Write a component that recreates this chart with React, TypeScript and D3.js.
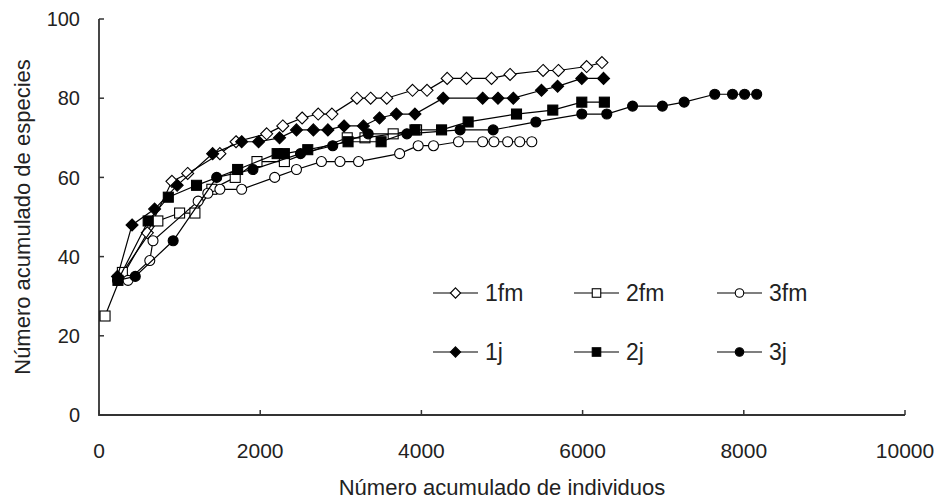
import React from "react"
import * as d3 from "d3"

// x: número acumulado de individuos, y: número acumulado de especies
const fm1X = [290, 600, 905, 1100, 1500, 1700, 2080, 2280, 2520, 2720, 2890, 3200, 3370, 3570, 3890, 4070, 4320, 4560, 4870, 5100, 5510, 5700, 6050, 6240]
const fm1Y = [35, 46, 59, 61, 66, 69, 71, 73, 75, 76, 76, 80, 80, 80, 82, 82, 85, 85, 85, 86, 87, 87, 88, 89]
const fm2X = [75, 290, 730, 1000, 1190, 1400, 1690, 1960, 2300, 3080, 3300, 3650, 3940]
const fm2Y = [25, 36, 49, 51, 51, 57, 60, 64, 64, 70, 70, 71, 72]
const fm3X = [360, 630, 670, 1230, 1350, 1500, 1770, 2180, 2450, 2760, 2990, 3220, 3730, 3960, 4150, 4460, 4760, 4900, 5070, 5220, 5370]
const fm3Y = [34, 39, 44, 54, 56, 57, 57, 60, 62, 64, 64, 64, 66, 68, 68, 69, 69, 69, 69, 69, 69]
const j1X = [230, 410, 690, 970, 1410, 1770, 1980, 2240, 2450, 2660, 2840, 3040, 3280, 3480, 3690, 3920, 4270, 4760, 4950, 5140, 5490, 5690, 5990, 6260]
const j1Y = [35, 48, 52, 58, 66, 69, 69, 70, 72, 72, 72, 73, 73, 75, 76, 76, 80, 80, 80, 80, 82, 83, 85, 85]
const j2X = [235, 610, 860, 1210, 1720, 2210, 2300, 2590, 3090, 3500, 3920, 4250, 4580, 5180, 5630, 5990, 6270]
const j2Y = [34, 49, 55, 58, 62, 66, 66, 67, 69, 69, 72, 72, 74, 76, 77, 79, 79]
const j3X = [230, 450, 920, 1460, 1910, 2500, 2900, 3340, 3820, 4480, 4890, 5420, 5990, 6300, 6620, 6990, 7260, 7640, 7860, 8010, 8160]
const j3Y = [34, 35, 44, 60, 62, 66, 68, 71, 71, 72, 72, 74, 76, 76, 78, 78, 79, 81, 81, 81, 81]

const seriesNames = ["1fm", "2fm", "3fm", "1j", "2j", "3j"]
const xTicks = [0, 2000, 4000, 6000, 8000, 10000]
const yTicks = [0, 20, 40, 60, 80, 100]

const W = 939, H = 503
const FONT = "'Liberation Sans', Arial, sans-serif"

const series = [
  { name: seriesNames[0], xs: fm1X, ys: fm1Y, shape: "diamond", filled: false },
  { name: seriesNames[1], xs: fm2X, ys: fm2Y, shape: "square", filled: false },
  { name: seriesNames[2], xs: fm3X, ys: fm3Y, shape: "circle", filled: false },
  { name: seriesNames[3], xs: j1X, ys: j1Y, shape: "diamond", filled: true },
  { name: seriesNames[4], xs: j2X, ys: j2Y, shape: "square", filled: true },
  { name: seriesNames[5], xs: j3X, ys: j3Y, shape: "circle", filled: true },
]

function Marker({ shape, filled, x, y, s = 1 }) {
  const fill = filled ? "#000" : "#fff"
  const sw = 1.1
  if (shape === "diamond") {
    const r = 6 * s
    return <path d={`M${x},${y - r}L${x + r},${y}L${x},${y + r}L${x - r},${y}Z`} fill={fill} stroke="#000" strokeWidth={sw} />
  }
  if (shape === "square") {
    const r = 5 * s
    return <rect x={x - r} y={y - r} width={2 * r} height={2 * r} fill={fill} stroke="#000" strokeWidth={sw} />
  }
  return <circle cx={x} cy={y} r={5 * s} fill={fill} stroke="#000" strokeWidth={sw} />
}

export default function App() {
  const x = d3.scaleLinear().domain([0, 10000]).range([99, 905])
  const y = d3.scaleLinear().domain([0, 100]).range([415, 19])
  const line = d3.line<[number, number]>().x(d => x(d[0])).y(d => y(d[1]))

  const legendCols = [433, 574, 717]
  const legendRows = [293, 352]

  return (
    <svg width={W} height={H} style={{ position: "absolute", left: 0, top: 0, background: "#fff" }} fontFamily={FONT}>
      {/* axes */}
      <path d={`M${x(0)},${y(100)}V${y(0)}H${x(10000)}`} fill="none" stroke="#333" strokeWidth={1.8} />
      {yTicks.map(t => (
        <g key={"y" + t}>
          <line x1={x(0)} x2={x(0) + 5} y1={y(t)} y2={y(t)} stroke="#333" strokeWidth={1.5} />
          <text x={80} y={y(t)} dy="0.36em" textAnchor="end" fontSize={20} fill="#222">{t}</text>
        </g>
      ))}
      {xTicks.map(t => (
        <g key={"x" + t}>
          <line x1={x(t)} x2={x(t)} y1={y(0)} y2={y(0) - 5} stroke="#333" strokeWidth={1.5} />
          <text x={x(t)} y={458} textAnchor="middle" fontSize={21} fill="#222">{t}</text>
        </g>
      ))}
      <text x={502} y={495} textAnchor="middle" fontSize={22} fill="#222">Número acumulado de individuos</text>
      <text transform={`translate(30,${(y(0) + y(100)) / 2}) rotate(-90)`} textAnchor="middle" fontSize={22} fill="#222">Número acumulado de especies</text>

      {/* series */}
      {series.map(s => {
        const pts = s.xs.map((v, i) => [v, s.ys[i]] as [number, number])
        return (
          <g key={s.name}>
            <path d={line(pts) || ""} fill="none" stroke="#000" strokeWidth={1.2} />
            {pts.map((p, i) => <Marker key={i} shape={s.shape} filled={s.filled} x={x(p[0])} y={y(p[1])} />)}
          </g>
        )
      })}

      {/* legend */}
      {series.map((s, i) => {
        const lx = legendCols[i % 3], ly = legendRows[Math.floor(i / 3)]
        return (
          <g key={"l" + s.name}>
            <line x1={lx} x2={lx + 45} y1={ly} y2={ly} stroke="#000" strokeWidth={1.2} />
            <Marker shape={s.shape} filled={s.filled} x={lx + 22.5} y={ly} s={0.85} />
            <text x={lx + 52} y={ly} dy="0.36em" fontSize={23} fill="#222">{s.name}</text>
          </g>
        )
      })}
    </svg>
  )
}
